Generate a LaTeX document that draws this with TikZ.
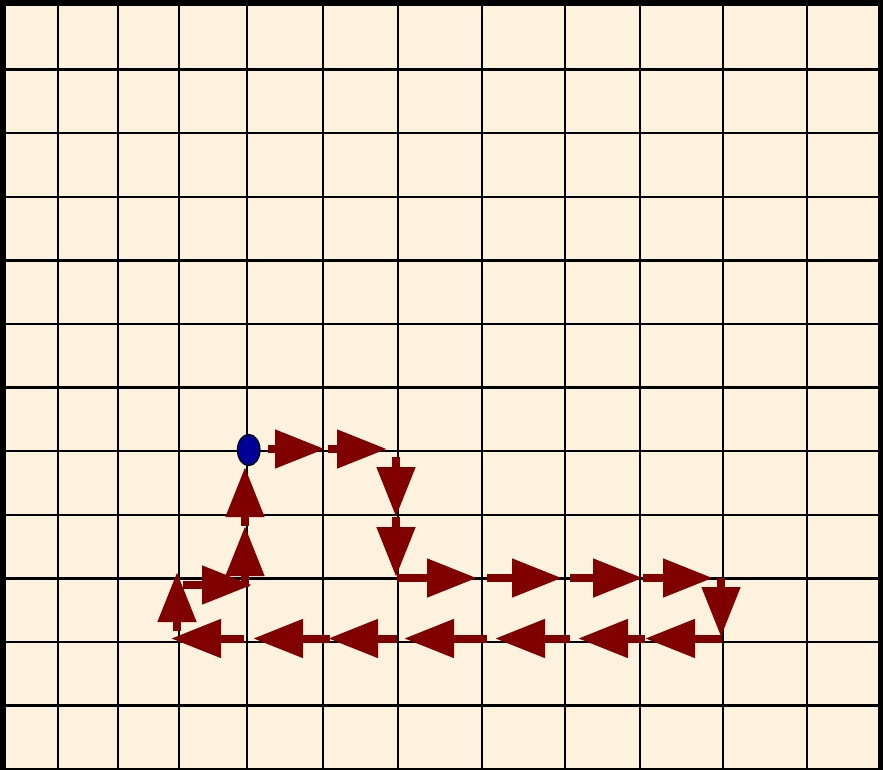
\documentclass[tikz,border=0pt]{standalone}
\usepackage{tikz,xcolor}
\usetikzlibrary{arrows.meta}
\definecolor{parch}{RGB}{253,242,221}
\definecolor{darkred}{RGB}{128,0,0}
\definecolor{dotblue}{RGB}{0,0,153}
\tikzset{mv/.style={darkred, line width=8pt, -{Triangle[length=50pt,width=37pt]}}}

\begin{document}
\begin{tikzpicture}[x=1pt,y=-1pt]
\useasboundingbox (0,0) rectangle (883,770);
\fill[black] (0,0) rectangle (883,770);
\fill[parch] (6,6) rectangle (878,768);

% grid
\foreach \x in {57.7,118,179,247,322.7,398,481.7,565,640,723,806.7}
  \draw[line width=2.4pt] (\x,6) -- (\x,768);
\foreach \k in {1,...,11}
  \draw[line width=2.4pt] (6,6+63.6*\k) -- (878,6+63.6*\k);

% start point
\coordinate (S) at (248.7,450);

% going right, then down
\draw[mv] (268,449) -- (325,449);
\draw[mv] (328,449) -- (387,449);
\draw[mv] (396,457) -- (396,517);
\draw[mv] (396,517) -- (396,577);

%row to the right
\draw[mv] (397,578) -- (477,578);
\draw[mv] (487,578) -- (562,578);
\draw[mv] (570,578) -- (643,578);
\draw[mv] (643,578) -- (713,578);
\draw[mv] (721,578) -- (721,637);

%row back to the left
\draw[mv] (722,638.5) -- (645,638.5);
\draw[mv] (645,638.5) -- (578,638.5);
\draw[mv] (570,638.5) -- (495,638.5);
\draw[mv] (487,638.5) -- (404,638.5);
\draw[mv] (397,638.5) -- (328,638.5);
\draw[mv] (330,638.5) -- (253,638.5);
\draw[mv] (244,638.5) -- (171,638.5);

% back up to the start
\draw[mv] (177,631) -- (177,572);
\draw[mv] (183,585) -- (252,585);
\draw[mv] (245,587) -- (245,526);
\draw[mv] (245,526) -- (245,467);

\filldraw[fill=dotblue, draw=black, line width=1.2pt] (S) ellipse (11.3 and 15.6);

\end{tikzpicture}
\end{document}
